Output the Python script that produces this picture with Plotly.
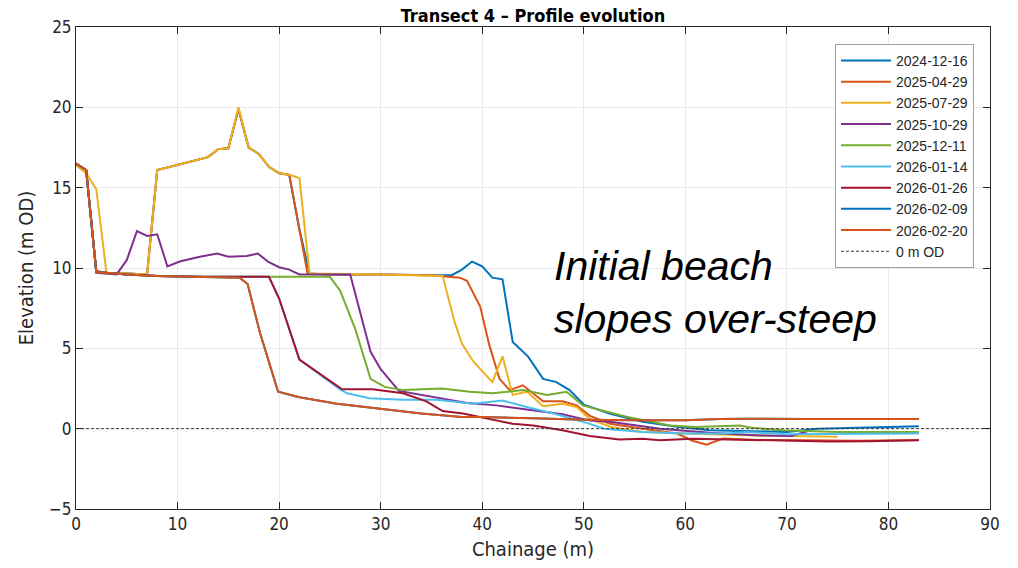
import plotly.graph_objects as go

# ---------------- data ----------------
dates = ["2024-12-16", "2025-04-29", "2025-07-29", "2025-10-29", "2025-12-11",
         "2026-01-14", "2026-01-26", "2026-02-09", "2026-02-20"]
colors = ["#0072BD", "#D95319", "#EDB120", "#7E2F8E", "#77AC30",
          "#4DBEEE", "#A2142F", "#0072BD", "#D95319"]

x_20241216 = [0, 1, 2, 3, 5, 7, 8, 13, 14, 15, 16, 17, 18, 19, 20, 21, 22, 23, 25, 30, 35, 37,
              38, 39, 40, 41, 42, 43, 44.5, 46, 47.3, 48.6, 50, 52.6, 55.8, 59.2, 62.4, 66, 70, 73, 76, 80, 83]
y_20241216 = [16.5, 16.1, 9.8, 9.7, 9.65, 9.6, 16.1, 16.9, 17.4, 17.45, 19.9, 17.5, 17.1, 16.3, 15.9, 15.8, 12.4, 9.65, 9.6, 9.6, 9.55, 9.55,
              9.9, 10.4, 10.1, 9.4, 9.3, 5.4, 4.5, 3.1, 2.9, 2.4, 1.5, 0.93, 0.43, 0.12, -0.1, -0.15, -0.2, 0.0, 0.05, 0.12, 0.15]

x_20250429 = [0, 1, 2, 3, 5, 7, 8, 13, 14, 15, 16, 17, 18, 19, 20, 21, 22.8, 25, 30, 35, 37.8, 38.5,
              39.8, 40.7, 41.7, 42.7, 44, 45, 46, 47.9, 49.3, 50.6, 52.6, 55.8, 59.2, 60.7, 62.1, 63.7, 67, 72, 77, 83]
y_20250429 = [16.5, 16.1, 9.8, 9.7, 9.65, 9.6, 16.1, 16.9, 17.4, 17.45, 19.9, 17.5, 17.1, 16.3, 15.9, 15.8, 9.65, 9.6, 9.6, 9.55, 9.4, 9.2,
              7.6, 5.2, 3.1, 2.4, 2.7, 2.2, 1.7, 1.7, 1.45, 0.8, 0.31, 0.0, -0.3, -0.75, -1.0, -0.62, -0.7, -0.72, -0.75, -0.7]

x_20250729 = [0, 1, 2, 3, 5, 7, 8, 13, 14, 15, 16, 17, 18, 19, 20, 21, 22, 23, 30, 36.1, 37.3, 38,
              39.1, 41, 42, 43, 44.4, 46, 47.9, 49.3, 50.6, 52.6, 55.8, 60, 65, 70, 75]
y_20250729 = [16.4, 15.9, 14.9, 9.7, 9.65, 9.6, 16.1, 16.9, 17.4, 17.45, 20.0, 17.5, 17.1, 16.3, 15.9, 15.8, 15.6, 9.65, 9.6, 9.5, 6.6, 5.3,
              4.2, 2.9, 4.5, 2.1, 2.3, 1.4, 1.55, 1.35, 0.6, 0.12, -0.2, -0.3, -0.4, -0.45, -0.5]

x_20251029 = [0, 1, 2, 3, 4, 5, 6, 7, 8, 9, 10.2, 12.2, 13.9, 15, 16.8, 17.9, 18.9, 20, 21, 22, 27, 29,
              30, 31.8, 34.8, 38.5, 41.4, 47.9, 50.6, 52.6, 57.5, 62.4, 67.3, 70.5, 71.5, 72]
y_20251029 = [16.5, 16.1, 9.7, 9.65, 9.6, 10.5, 12.3, 12.0, 12.1, 10.1, 10.4, 10.7, 10.9, 10.7, 10.75, 10.9, 10.4, 10.05, 9.9, 9.6, 9.6, 4.8,
              3.7, 2.35, 2.0, 1.6, 1.45, 0.9, 0.5, 0.43, 0.0, -0.25, -0.42, -0.45, -0.25, -0.3]

x_20251211 = [0, 1, 2, 3, 5, 8, 12, 20, 25, 26, 27.5, 29, 30.4, 32.2, 36, 38.8, 41, 44, 46.4, 48.3,
              49.9, 54.2, 58.5, 61, 64, 65.4, 66.6, 69.6, 75, 83]
y_20251211 = [16.5, 16.1, 9.75, 9.7, 9.6, 9.5, 9.45, 9.45, 9.45, 8.6, 6.2, 3.1, 2.6, 2.4, 2.5, 2.3, 2.2, 2.4, 2.1, 2.3,
              1.45, 0.74, 0.2, 0.1, 0.15, 0.2, 0.05, -0.1, -0.2, -0.2]

x_20260114 = [0, 1, 2, 3, 5, 8, 12, 19, 20, 22, 26, 26.7, 28.9, 32.2, 35.5, 39.1, 42, 44.4, 47.3, 50.6,
              52, 55.8, 60, 64, 66, 70, 83]
y_20260114 = [16.5, 16.1, 9.75, 9.7, 9.6, 9.5, 9.45, 9.45, 8.1, 4.3, 2.45, 2.2, 1.9, 1.8, 1.8, 1.55, 1.75, 1.35, 0.9, 0.3,
              0.0, -0.2, -0.3, -0.3, -0.2, -0.35, -0.3]

x_20260126 = [0, 1, 2, 3, 5, 8, 12, 19, 20, 22, 26.2, 29.2, 32.2, 34.5, 36.1, 38.1, 40, 43, 45, 47.9,
              50.6, 53.5, 55.8, 57.5, 60.7, 65, 70, 74, 78, 83]
y_20260126 = [16.5, 16.1, 9.75, 9.7, 9.6, 9.5, 9.45, 9.45, 8.1, 4.3, 2.45, 2.45, 2.2, 1.7, 1.1, 0.95, 0.7, 0.3, 0.2, -0.1,
              -0.45, -0.68, -0.62, -0.72, -0.62, -0.68, -0.72, -0.8, -0.78, -0.72]

x_20260209 = [0, 1, 2, 3, 5, 8, 12, 16.1, 16.9, 18.1, 19.9, 22, 25.7, 30, 34, 38, 40, 45, 50, 55,
              60, 63.4, 66, 72, 83]
y_20260209 = [16.5, 16.1, 9.75, 9.7, 9.6, 9.5, 9.45, 9.4, 9.0, 6.0, 2.3, 1.95, 1.55, 1.25, 0.95, 0.72, 0.72, 0.65, 0.56, 0.52,
              0.52, 0.6, 0.62, 0.6, 0.6]

x_20260220 = [0, 1, 2, 3, 5, 8, 12, 16.1, 16.9, 18.1, 19.9, 22, 25.7, 30, 34, 38, 40, 45, 50, 55,
              60, 63.4, 66, 72, 83]
y_20260220 = [16.5, 16.1, 9.75, 9.7, 9.6, 9.5, 9.45, 9.4, 9.0, 6.0, 2.3, 1.95, 1.55, 1.25, 0.95, 0.72, 0.72, 0.65, 0.56, 0.52,
              0.52, 0.6, 0.62, 0.6, 0.6]

xs = [x_20241216, x_20250429, x_20250729, x_20251029, x_20251211,
      x_20260114, x_20260126, x_20260209, x_20260220]
ys = [y_20241216, y_20250429, y_20250729, y_20251029, y_20251211,
      y_20260114, y_20260126, y_20260209, y_20260220]

datum_x = [0, 90]
datum_y = [0, 0]

x_ticks = [0, 10, 20, 30, 40, 50, 60, 70, 80, 90]
y_ticks = [-5, 0, 5, 10, 15, 20, 25]

title_text = "Transect 4 \u2013 Profile evolution"
note_text = "Initial beach<br>slopes over-steep"

# ---------------- figure ----------------
AXFONT = "Liberation Sans Narrow, Arial Narrow, DejaVu Sans Condensed, Liberation Sans, Arial"
fig = go.Figure()

for d, c, x, y in zip(dates, colors, xs, ys):
    fig.add_trace(go.Scatter(x=x, y=y, mode="lines", name=d,
                             line=dict(color=c, width=2)))

fig.add_trace(go.Scatter(x=datum_x, y=datum_y, mode="lines", name="0 m OD",
                         line=dict(color="#3a3a3a", width=1, dash="3px,2px")))

axis_common = dict(showline=True, linecolor="#262626", linewidth=1, mirror="ticks",
                   ticks="inside", ticklen=7, tickcolor="#262626",
                   showgrid=True, gridcolor="#e8e8e8", gridwidth=1,
                   zeroline=False, tickfont=dict(family=AXFONT, size=17, color="#262626"))

fig.update_xaxes(range=[0, 90], tickvals=x_ticks,
                 title=dict(text="Chainage (m)", font=dict(family=AXFONT, size=20, color="#262626"),
                            standoff=8),
                 **axis_common)
fig.update_yaxes(range=[-5, 25], tickvals=y_ticks,
                 title=dict(text="Elevation (m OD)", font=dict(family=AXFONT, size=20, color="#262626"),
                            standoff=10),
                 **axis_common)

fig.add_annotation(x=46.9, y=8.5, xref="x", yref="y", text="<i>" + note_text + "</i>",
                   showarrow=False, xanchor="left", yanchor="middle", align="left",
                   font=dict(family="Liberation Sans, Arial", size=41, color="black"))

fig.update_layout(
    width=1018, height=568,
    margin=dict(l=76, r=28, t=27, b=57),
    paper_bgcolor="white", plot_bgcolor="white",
    title=dict(text="<b>" + title_text + "</b>", x=0.5, xref="paper", y=1 - 16 / 568,
               yref="container", xanchor="center", yanchor="middle",
               font=dict(family=AXFONT, size=18, color="black")),
    legend=dict(x=0.9825, y=0.965, xanchor="right", yanchor="top",
                bgcolor="white", bordercolor="#a0a0a0", borderwidth=1,
                font=dict(family="Liberation Sans, Arial", size=14, color="#262626"),
                itemwidth=50, tracegroupgap=0),
    showlegend=True,
)

fig.write_html("out.html")
